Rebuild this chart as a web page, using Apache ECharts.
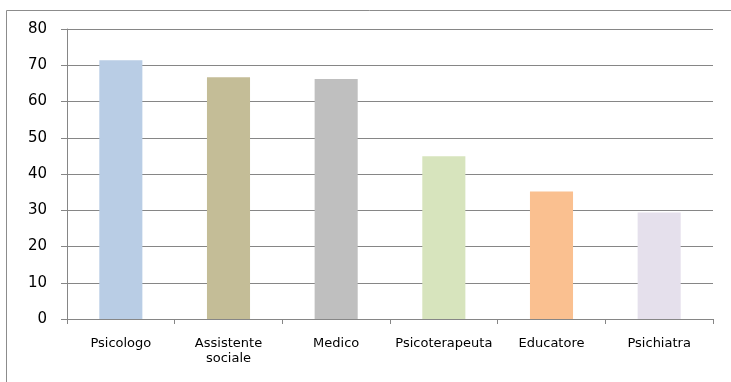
<!DOCTYPE html>
<html>
<head>
<meta charset="utf-8">
<script src="https://cdn.jsdelivr.net/npm/echarts@6/dist/echarts.min.js"></script>
<style>
  html, body { margin: 0; padding: 0; background: #ffffff; }
  #chart { width: 731px; height: 382px; }
</style>
</head>
<body>
<div id="chart"></div>
<script>
// Professional categories and their percentages
const categories = ['Psicologo', 'Assistente\nsociale', 'Medico', 'Psicoterapeuta', 'Educatore', 'Psichiatra'];
const values = [71.4, 66.7, 66.2, 44.9, 35.2, 29.4];
const barColors = ['#B9CDE5', '#C4BD97', '#BFBFBF', '#D7E4BD', '#FAC090', '#E5E0EC'];
const yTicks = [0, 10, 20, 30, 40, 50, 60, 70, 80];

const chart = echarts.init(document.getElementById('chart'), null, { renderer: 'canvas' });

chart.setOption({
  animation: false,
  backgroundColor: '#ffffff',
  graphic: [{
    type: 'rect',
    shape: { x: 6.5, y: 10.5, width: 740, height: 400 },
    style: { fill: 'none', stroke: '#8c8c8c', lineWidth: 1 },
    silent: true
  }],
  grid: { left: 67, right: 18, top: 29, bottom: 63, containLabel: false },
  xAxis: {
    type: 'category',
    data: categories,
    axisLine: { lineStyle: { color: '#868686', width: 1 } },
    axisTick: { show: true, length: 5, alignWithLabel: false, lineStyle: { color: '#868686' } },
    axisLabel: {
      interval: 0,
      margin: 17,
      fontFamily: 'DejaVu Sans',
      fontSize: 13,
      color: '#000000',
      lineHeight: 15
    }
  },
  yAxis: {
    type: 'value',
    min: yTicks[0],
    max: yTicks[yTicks.length - 1],
    interval: 10,
    axisLine: { show: true, lineStyle: { color: '#868686', width: 1 } },
    axisTick: { show: true, inside: false, length: 6, lineStyle: { color: '#868686' } },
    splitLine: { show: true, lineStyle: { color: '#868686', width: 1 } },
    axisLabel: {
      margin: 20,
      fontFamily: 'DejaVu Sans',
      fontSize: 15,
      color: '#000000'
    }
  },
  series: [{
    type: 'bar',
    data: values.map((v, i) => ({ value: v, itemStyle: { color: barColors[i] } })),
    barWidth: '40%'
  }]
});
</script>
</body>
</html>
